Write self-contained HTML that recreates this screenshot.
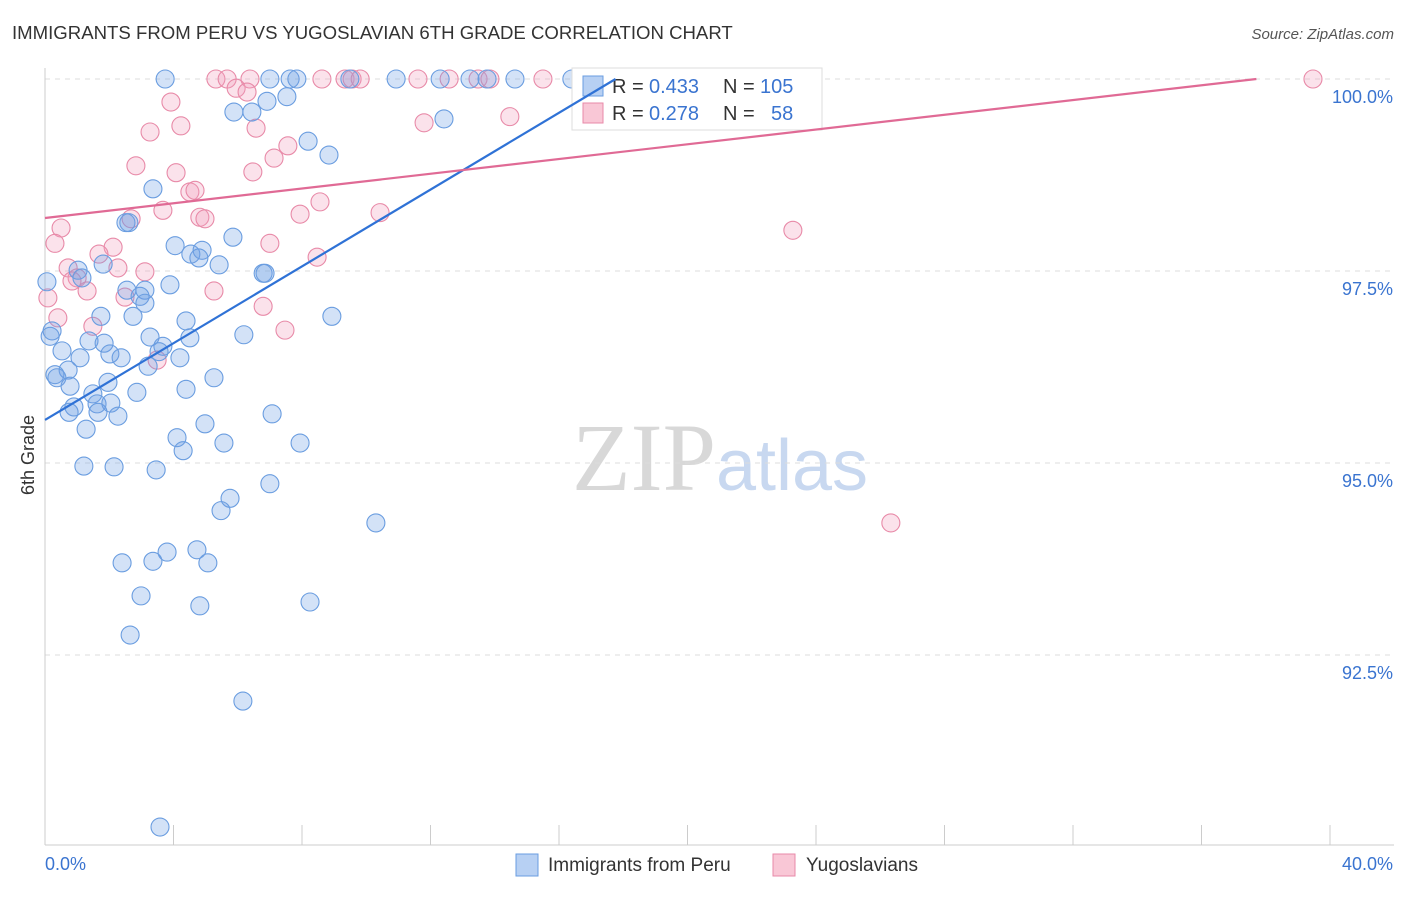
<!DOCTYPE html>
<html><head><meta charset="utf-8"><style>
body{margin:0;background:#fff;font-family:"Liberation Sans",sans-serif;}
svg text{font-family:"Liberation Sans",sans-serif;}
</style></head><body>
<svg id="chart" width="1406" height="892" xmlns="http://www.w3.org/2000/svg">
<text x="12" y="39" font-size="18.6" fill="#333">IMMIGRANTS FROM PERU VS YUGOSLAVIAN 6TH GRADE CORRELATION CHART</text>
<text x="1394" y="39" font-size="15" fill="#555" text-anchor="end" font-style="italic">Source: ZipAtlas.com</text>
<text x="720" y="490" font-size="96" text-anchor="middle"><tspan fill="#d8d8d8" font-family="Liberation Serif">ZIP</tspan><tspan fill="#c8d8f0" font-size="72">atlas</tspan></text>
<text transform="translate(34,455) rotate(-90)" font-size="18" fill="#333" text-anchor="middle">6th Grade</text>
<g id="grid"></g><g id="axes"></g><g id="pts"></g>
<g>
<rect x="572" y="68" width="250" height="62" fill="#fff" stroke="#ddd"/>
<rect x="583" y="76" width="20" height="20" fill="#b7d0f3" stroke="#6a9de0"/>
<text x="612" y="93" font-size="20" fill="#333">R =</text>
<text x="649" y="93" font-size="20" fill="#3a74d0">0.433</text>
<text x="723" y="93" font-size="20" fill="#333">N =</text>
<text x="760" y="93" font-size="20" fill="#3a74d0">105</text>
<rect x="583" y="103" width="20" height="20" fill="#f9c7d6" stroke="#e88aa8"/>
<text x="612" y="120" font-size="20" fill="#333">R =</text>
<text x="649" y="120" font-size="20" fill="#3a74d0">0.278</text>
<text x="723" y="120" font-size="20" fill="#333">N =</text>
<text x="771" y="120" font-size="20" fill="#3a74d0">58</text>
</g>
<g id="trend"></g>
<g>
<rect x="516" y="854" width="22" height="22" fill="#b7d0f3" stroke="#6a9de0"/>
<text x="548" y="871" font-size="19" fill="#333">Immigrants from Peru</text>
<rect x="773" y="854" width="22" height="22" fill="#f9c7d6" stroke="#e88aa8"/>
<text x="806" y="871" font-size="19" fill="#333">Yugoslavians</text>
</g>
</svg>
<script>
const blueX=[3.74,7.00,7.63,7.84,10.93,12.30,13.23,13.76,14.63,16.40,9.49,6.91,7.53,5.88,6.44,12.42,8.19,8.84,3.36,2.52,2.61,5.85,4.05,4.54,4.89,4.79,5.42,6.79,6.85,1.81,1.03,1.15,0.06,3.89,2.55,3.11,2.96,3.11,1.74,2.74,4.39,8.93,0.22,0.16,1.37,1.84,3.27,4.51,6.19,0.53,2.02,2.37,1.09,3.67,3.55,3.21,4.20,0.72,0.31,0.37,0.78,1.96,5.26,1.49,2.86,4.39,0.90,1.62,2.05,0.75,1.65,2.27,7.07,1.28,4.98,4.11,4.30,5.57,7.94,1.21,2.15,3.46,7.00,5.76,5.48,10.30,3.80,4.73,2.40,3.36,5.07,2.99,4.82,8.25,2.65,6.16,3.58];
const blueY=[100,100,100,100,100,100,100,100,100,100,100,99.71,99.77,99.57,99.57,99.48,99.19,99.01,98.57,98.13,98.13,97.94,97.83,97.72,97.77,97.67,97.58,97.47,97.47,97.59,97.51,97.41,97.36,97.32,97.25,97.25,97.17,97.08,96.91,96.91,96.85,96.91,96.72,96.65,96.59,96.56,96.64,96.63,96.67,96.46,96.42,96.37,96.37,96.52,96.45,96.26,96.37,96.21,96.15,96.11,96.00,96.05,96.11,95.90,95.92,95.96,95.73,95.77,95.78,95.66,95.66,95.61,95.64,95.44,95.51,95.33,95.16,95.26,95.26,94.96,94.95,94.91,94.73,94.54,94.38,94.22,93.84,93.87,93.70,93.72,93.70,93.27,93.14,93.19,92.76,91.90,90.26];
const pinkX=[5.32,5.67,6.38,8.62,9.34,9.56,9.81,11.61,12.58,13.48,13.85,15.50,20.54,39.47,5.95,6.29,3.92,11.80,14.47,3.27,4.23,6.57,7.56,7.13,2.83,4.08,6.47,4.51,4.67,8.56,3.67,10.43,4.82,4.98,7.94,2.68,23.28,0.50,0.31,2.12,7.00,1.68,8.47,0.72,2.27,3.11,1.00,1.31,5.26,2.49,0.09,6.79,1.49,7.47,0.40,3.49,26.33,0.84];
const pinkY=[100,100,100,100,100,100,100,100,100,100,100,100,100,100,99.88,99.83,99.70,99.43,99.51,99.31,99.39,99.36,99.13,98.97,98.87,98.78,98.79,98.53,98.55,98.40,98.29,98.26,98.20,98.18,98.24,98.18,98.03,98.06,97.86,97.81,97.86,97.72,97.68,97.54,97.54,97.49,97.41,97.24,97.24,97.16,97.15,97.04,96.78,96.73,96.89,96.34,94.22,97.37];
const yTicks=[100,97.5,95,92.5];
const yTickLabels=["100.0%","97.5%","95.0%","92.5%"];
const blueLine=[95.56,0.25];
const pinkLine=[98.19,0.048];
const NS="http://www.w3.org/2000/svg";
const sx=v=>45+v/40*1285, sy=v=>79+(100-v)/2.5*192;
function mk(tag,attrs,parent){const e=document.createElementNS(NS,tag);for(const k in attrs)e.setAttribute(k,attrs[k]);document.getElementById(parent).appendChild(e);return e;}
yTicks.forEach((t,i)=>{
 const l=mk('line',{x1:45,x2:1394,y1:sy(t),y2:sy(t),stroke:'#ddd','stroke-dasharray':'5,5'},'grid');
 
 
 const tx=mk('text',{x:1393,y:sy(t)+24,'font-size':18,fill:'#3a74d0','text-anchor':'end'},'grid');
 tx.textContent=yTickLabels[i];
 
 
});
const ax=mk('line',{x1:45,x2:1394,y1:845,y2:845,stroke:'#ccc'},'axes');


const ay=mk('line',{x1:45,x2:45,y1:68,y2:845,stroke:'#ccc'},'axes');


for(let v=0;v<=40;v+=4){const t=mk('line',{x1:sx(v),x2:sx(v),y1:825,y2:845,stroke:'#ccc'},'axes');
 
 }
[["0.0%",45,"start"],["40.0%",1393,"end"]].forEach(a=>{const t=mk('text',{x:a[1],y:870,'font-size':18,fill:'#3a74d0','text-anchor':a[2]},'axes');t.textContent=a[0];
 
 });
function pts(X,Y,fill,stroke,name){X.forEach((x,i)=>{const c=mk('circle',{cx:sx(x),cy:sy(Y[i]),r:9,fill:fill,stroke:stroke,'stroke-width':1.1},'pts');
 
 });}
pts(pinkX,pinkY,'rgba(243,160,190,0.3)','#e88aa8','yugoslavian-point');
pts(blueX,blueY,'rgba(110,160,230,0.3)','#6a9de0','peru-point');
function trend(p,col,name){const xe=(100-p[0])/p[1];const l=mk('line',{x1:sx(0),y1:sy(p[0]),x2:sx(xe),y2:sy(100),stroke:col,'stroke-width':2.2},'trend');
 
 }
trend(blueLine,'#2f72d6','peru-trend-line');
trend(pinkLine,'#e06a95','yugoslavian-trend-line');
</script>
</body></html>
